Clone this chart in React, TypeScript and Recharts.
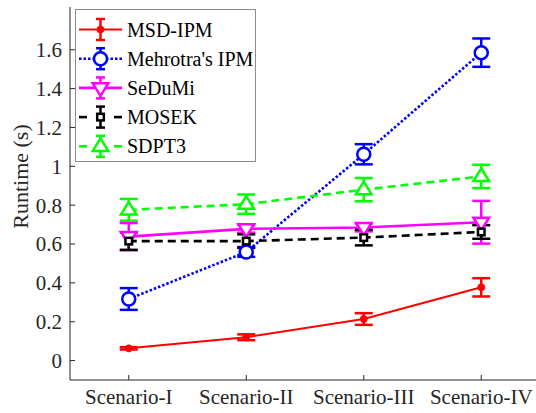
import React from 'react';
import { LineChart, Line, XAxis, YAxis, ErrorBar, Legend } from 'recharts';

const categories = ['Scenario-I', 'Scenario-II', 'Scenario-III', 'Scenario-IV'];
const msdIpm = [0.063, 0.12, 0.214, 0.377];
const msdIpmErr = [0.006, 0.015, 0.03, 0.047];
const mehrotra = [0.317, 0.559, 1.062, 1.585];
const mehrotraErr = [0.056, 0.025, 0.052, 0.073];
const sedumi = [0.638, 0.678, 0.685, 0.712];
const sedumiErr = [0.07, 0.02, 0.02, 0.11];
const mosek = [0.615, 0.615, 0.633, 0.662];
const mosekErr = [0.045, 0.035, 0.04, 0.035];
const sdpt3 = [0.776, 0.805, 0.88, 0.948];
const sdpt3Err = [0.056, 0.05, 0.06, 0.06];
const yTicks = [0, 0.2, 0.4, 0.6, 0.8, 1, 1.2, 1.4, 1.6];
const seriesNames = ['MSD-IPM', "Mehrotra's IPM", 'SeDuMi', 'MOSEK', 'SDPT3'];

const data = categories.map((name, i) => ({
  name,
  msd: msdIpm[i], msdErr: msdIpmErr[i],
  meh: mehrotra[i], mehErr: mehrotraErr[i],
  sed: sedumi[i], sedErr: sedumiErr[i],
  mos: mosek[i], mosErr: mosekErr[i],
  sdp: sdpt3[i], sdpErr: sdpt3Err[i],
}));

const FONT = 'Liberation Serif, Times New Roman, serif';
const AX = '#262626';
const PAD = { left: 58.75, right: 58.75 };

type MK = 'dot' | 'circle' | 'down' | 'square' | 'up';

function marker(kind: MK, cx: number, cy: number, color: string, key?: string | number) {
  switch (kind) {
    case 'dot':
      return <circle key={key} cx={cx} cy={cy} r={3.6} fill={color} stroke={color} strokeWidth={0.6} />;
    case 'circle':
      return <circle key={key} cx={cx} cy={cy} r={6.5} fill="#fff" stroke={color} strokeWidth={2.5} />;
    case 'down':
      return (
        <polygon key={key}
          points={`${cx - 7.8},${cy - 4.6} ${cx + 7.8},${cy - 4.6} ${cx},${cy + 8}`}
          fill="#fff" stroke={color} strokeWidth={2.5} strokeLinejoin="miter" />
      );
    case 'up':
      return (
        <polygon key={key}
          points={`${cx - 7.8},${cy + 4.6} ${cx + 7.8},${cy + 4.6} ${cx},${cy - 8}`}
          fill="#fff" stroke={color} strokeWidth={2.5} strokeLinejoin="miter" />
      );
    case 'square':
      return <rect key={key} x={cx - 3.3} y={cy - 3.3} width={6.6} height={6.6} fill="#fff" stroke={color} strokeWidth={2.5} />;
  }
  return null;
}

const series = [
  { key: 'msd', err: 'msdErr', color: '#ff0000', mk: 'dot' as MK, dash: undefined as string | undefined, w: 2, legendDash: 'solid' },
  { key: 'meh', err: 'mehErr', color: '#0000ff', mk: 'circle' as MK, dash: '2.5 2', w: 2.6, legendDash: 'dot' },
  { key: 'sed', err: 'sedErr', color: '#ff00ff', mk: 'down' as MK, dash: undefined, w: 2.6, legendDash: 'solid' },
  { key: 'mos', err: 'mosErr', color: '#000000', mk: 'square' as MK, dash: '8 5', w: 2.6, legendDash: 'dash' },
  { key: 'sdp', err: 'sdpErr', color: '#00ff00', mk: 'up' as MK, dash: '8 5', w: 2.6, legendDash: 'dash' },
];

const LegendBox = () => (
  <svg width={181} height={153} style={{ display: 'block', fontFamily: FONT }}>
    <rect x={0.5} y={0.5} width={180} height={152} fill="#fff" stroke="#8c8c8c" strokeWidth={1} />
    {series.map((s, i) => {
      const cy = 20.5 + i * 29.2;
      const cx = 25.5;
      let line: React.ReactNode;
      if (s.legendDash === 'dash') {
        line = (
          <g>
            <line x1={4} y1={cy} x2={12} y2={cy} stroke={s.color} strokeWidth={s.w} />
            <line x1={39} y1={cy} x2={47} y2={cy} stroke={s.color} strokeWidth={s.w} />
          </g>
        );
      } else if (s.legendDash === 'dot') {
        line = <line x1={4} y1={cy} x2={47} y2={cy} stroke={s.color} strokeWidth={s.w} strokeDasharray="2.5 2" />;
      } else {
        line = <line x1={4} y1={cy} x2={47} y2={cy} stroke={s.color} strokeWidth={s.w} />;
      }
      return (
        <g key={s.key}>
          {line}
          <line x1={cx} y1={cy - 10.5} x2={cx} y2={cy + 10.5} stroke={s.color} strokeWidth={2.5} />
          <line x1={cx - 4.5} y1={cy - 10.5} x2={cx + 4.5} y2={cy - 10.5} stroke={s.color} strokeWidth={2.5} />
          <line x1={cx - 4.5} y1={cy + 10.5} x2={cx + 4.5} y2={cy + 10.5} stroke={s.color} strokeWidth={2.5} />
          {marker(s.mk, cx, cy, s.color)}
          <text x={52} y={cy} dy="0.35em" style={{ fontFamily: FONT, fontSize: 20 }} fill="#000">{seriesNames[i]}</text>
        </g>
      );
    })}
  </svg>
);

export default function App() {
  return (
    <div style={{ position: 'absolute', left: 0, top: 0, width: 536, height: 413, overflow: 'hidden', background: '#fff', fontFamily: FONT }}>
      <LineChart width={540} height={413} data={data} margin={{ top: 7, right: 0, bottom: 0, left: 0 }} style={{ fontFamily: FONT }}>
        <XAxis
          dataKey="name"
          xAxisId={0}
          height={33}
          padding={PAD}
          tickSize={-5}
          tickMargin={14}
          interval={0}
          stroke={AX}
          tick={{ fontSize: 21, fill: AX, style: { fontFamily: FONT } }}
        />
        <XAxis
          dataKey="name"
          xAxisId="top"
          orientation="top"
          height={0}
          padding={PAD}
          tickSize={-5}
          interval={0}
          stroke={AX}
          tickFormatter={() => ''}
        />
        <YAxis
          yAxisId={0}
          width={70}
          domain={[-0.1, 1.82]}
          allowDataOverflow
          ticks={yTicks}
          tickSize={-5}
          tickMargin={13}
          stroke={AX}
          tick={{ fontSize: 21, fill: AX, style: { fontFamily: FONT } }}
          label={{ value: 'Runtime (s)', angle: -90, position: 'center', dx: -15, dy: -17, style: { fontFamily: FONT, fontSize: 22, fill: AX } }}
        />
        <YAxis
          yAxisId="right"
          orientation="right"
          width={0}
          domain={[-0.1, 1.82]}
          allowDataOverflow
          ticks={yTicks}
          tickSize={-5}
          stroke={AX}
          tickFormatter={() => ''}
        />
        {series.map((s) => (
          <Line
            key={s.key}
            dataKey={s.key}
            xAxisId={0}
            yAxisId={0}
            stroke={s.color}
            strokeWidth={s.w}
            strokeDasharray={s.dash}
            isAnimationActive={false}
            dot={(p: any) => marker(s.mk, p.cx, p.cy, s.color, p.index)}
            activeDot={false}
          >
            <ErrorBar dataKey={s.err} direction="y" width={9} stroke={s.color} strokeWidth={2.5} isAnimationActive={false} />
          </Line>
        ))}
        <Legend
          layout="vertical"
          align="center"
          verticalAlign="middle"
          wrapperStyle={{ left: 75, top: 9, width: 181, height: 153 }}
          content={() => <LegendBox />}
        />
      </LineChart>
    </div>
  );
}
